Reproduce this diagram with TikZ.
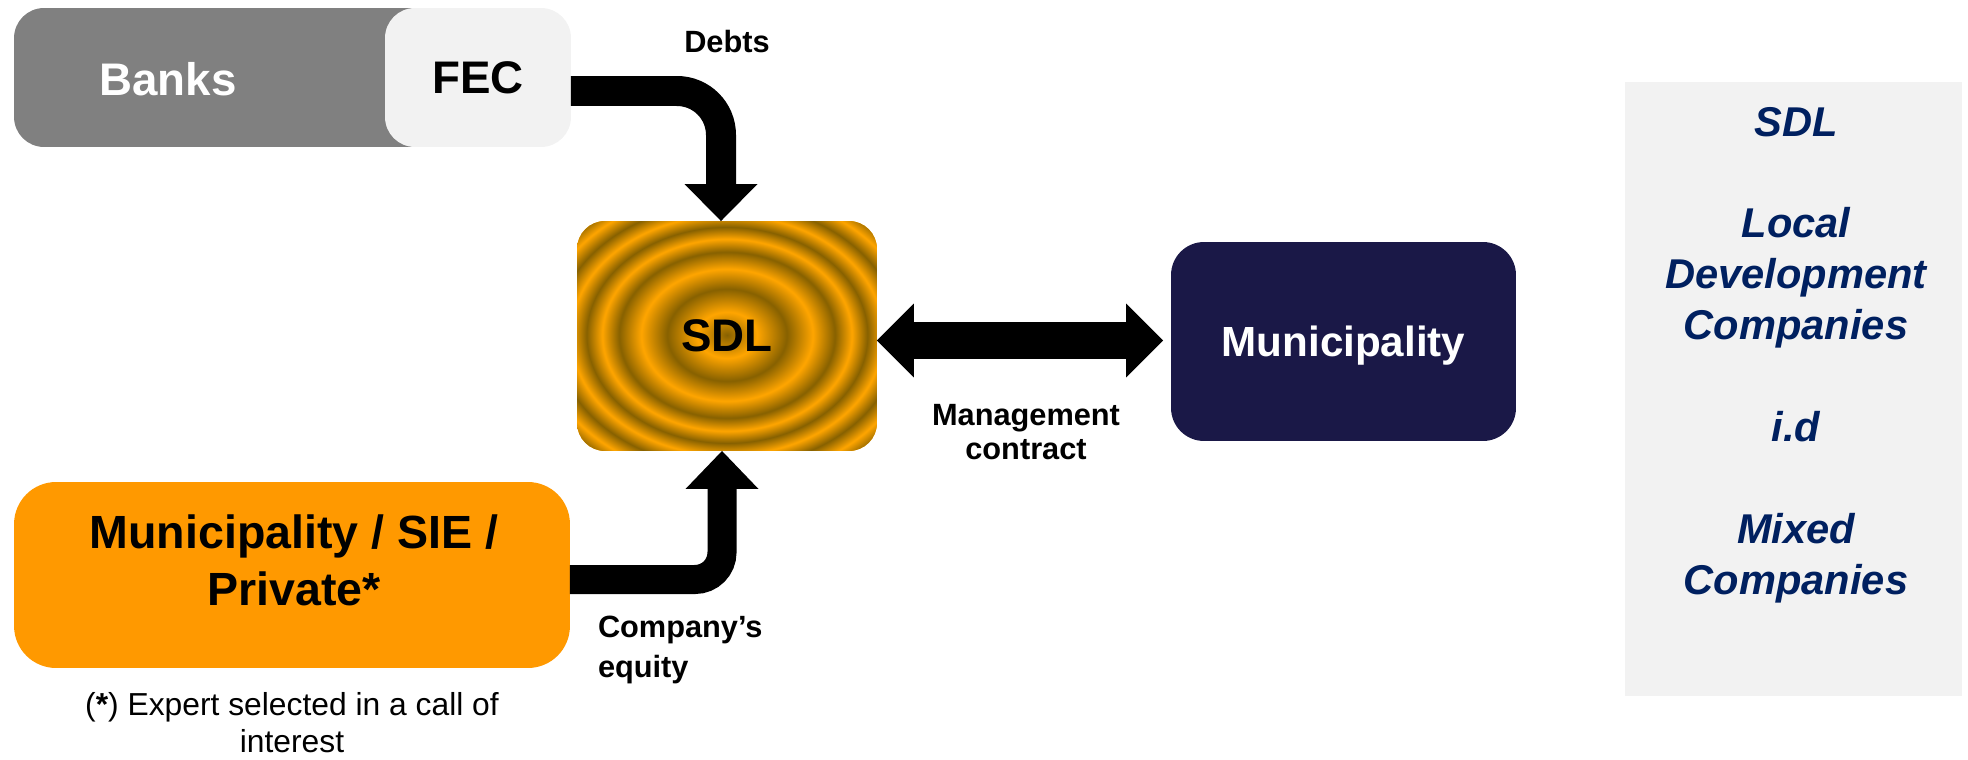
\documentclass[tikz,border=0pt]{standalone}
\usepackage{fontspec}
\setmainfont{Liberation Sans}
\usetikzlibrary{arrows.meta,calc}
\definecolor{banksgray}{HTML}{808080}
\definecolor{fecgray}{HTML}{F2F2F2}
\definecolor{ownorange}{HTML}{FF9900}
\definecolor{muninavy}{HTML}{1A1847}
\definecolor{panelblue}{HTML}{002060}
\definecolor{ringor}{HTML}{FFA500}
\definecolor{ringdk}{HTML}{876100}
\pgfdeclareradialshading{sdlrings}{\pgfpoint{0bp}{0bp}}{color(0bp)=(ringdk); color(2.875bp)=(ringor); color(5.75bp)=(ringdk); color(8.25bp)=(ringor); color(10.375bp)=(ringdk); color(12bp)=(ringor); color(13.5bp)=(ringdk); color(15bp)=(ringor); color(16.5bp)=(ringdk); color(18bp)=(ringor); color(19.5bp)=(ringdk); color(21bp)=(ringor); color(22.5bp)=(ringdk); color(25bp)=(ringdk); color(50bp)=(ringdk)}
\begin{document}
\begin{tikzpicture}[x=0.02cm, y=-0.02cm,
  box/.style={inner sep=0pt, outer sep=0pt},
  bigbold/.style={font=\bfseries\fontsize{26}{31}\selectfont},
  lbl/.style={inner sep=0pt, outer sep=0pt},
  flowline/.style={draw=black, line width=#1}]
\useasboundingbox (0,0) rectangle (1968,760);
% top left boxes
\node[box, fill=banksgray, rounded corners=0.6cm, minimum width=9.62cm, minimum height=2.78cm] (banks) at (254.5,77.5) {};
\node[box, bigbold, text=white] (bankstext) at (168,79.5) {Banks};
\node[box, fill=fecgray, rounded corners=0.6cm, minimum width=3.72cm, minimum height=2.78cm, bigbold] (fec) at (478,77.5) {FEC};
% SDL
\node[box, fill=ringor, rounded corners=0.56cm, minimum width=6cm, minimum height=4.6cm, bigbold,
  path picture={\shade[shading=sdlrings] ($(path picture bounding box.center)+(0,-1)$) ellipse [x radius=5.2cm, y radius=4cm];}] (sdl) at (727,336) {SDL};
% Municipality
\node[box, fill=muninavy, rounded corners=0.66cm, minimum width=6.9cm, minimum height=3.98cm, text=white, text depth=0pt, font=\bfseries\fontsize{24}{29}\selectfont] (muni) at (1343.5,341.5) {Municipality};
% owners
\node[box, fill=ownorange, rounded corners=0.84cm, minimum width=11.12cm, minimum height=3.72cm] (owners) at (292,575) {};
\node[box, align=center, font=\bfseries\fontsize{26.5}{32.3}\selectfont] (ownerstext) at (294,560) {Municipality / SIE /\\Private*};
\node[box, align=center, font=\fontsize{18.1}{21}\selectfont] (note) at (292,723) {(\textbf{*}) Expert selected in a call of\\interest};
% right panel
\node[box, fill=fecgray, minimum width=6.74cm, minimum height=12.28cm] (panel) at (1793.5,389) {};
\node[box, anchor=north, align=center, text=panelblue, font=\bfseries\itshape\fontsize{23.7}{29}\selectfont] (paneltext) at (1796,107) {SDL\\[29pt]Local\\Development\\Companies\\[29pt]i.d\\[29pt]Mixed\\Companies};
% labels
\node[lbl, anchor=base, font=\bfseries\fontsize{17.5}{21}\selectfont] (debts) at (727,53) {Debts};
\node[lbl, anchor=north, align=center, font=\bfseries\fontsize{17.5}{19.8}\selectfont] (mgmt) at (1026,404) {Management\\contract};
\node[lbl, anchor=north west, align=left, font=\bfseries\fontsize{17.5}{22.7}\selectfont] (equity) at (598,616) {Company’s\\equity};
% connectors
\coordinate (debtsy) at (0,91);
\coordinate (sdltop) at ($(sdl.north)+(-6,0)$);
\draw[flowline=0.6cm, rounded corners=0.88cm, -{Triangle[length=0.74cm,width=1.46cm,line width=0pt]}]
  (fec.east |- debtsy) -- (sdltop |- debtsy) -- (sdltop);
\coordinate (eqy) at (0,579.5);
\coordinate (sdlbot) at ($(sdl.south)+(-5,0)$);
\draw[flowline=0.58cm, rounded corners=0.54cm, -{Triangle[length=0.76cm,width=1.46cm,line width=0pt]}]
  (owners.east |- eqy) -- (sdlbot |- eqy) -- (sdlbot);
\coordinate (mcy) at (0,340.5);
\coordinate (munitip) at ($(muni.west |- mcy)+(-8,0)$);
\draw[flowline=0.74cm, {Triangle[length=0.74cm,width=1.48cm,line width=0pt]}-{Triangle[length=0.74cm,width=1.48cm,line width=0pt]}]
  (sdl.east |- mcy) -- (munitip);
\end{tikzpicture}
\end{document}
